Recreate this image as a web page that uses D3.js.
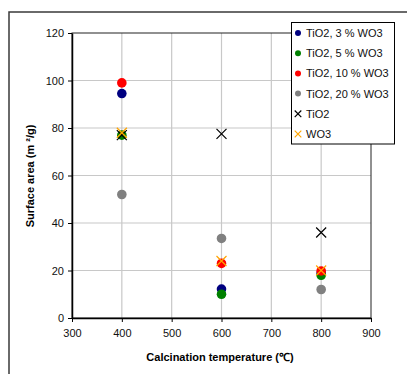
<!DOCTYPE html>
<html>
<head>
<meta charset="utf-8">
<script src="https://cdn.jsdelivr.net/npm/d3@7"></script>
<style>
  body { margin: 0; background: #fff; }
  svg { display: block; font-family: "Liberation Sans", Arial, sans-serif; }
</style>
</head>
<body>
<div id="chart"></div>
<script>
var temps = [400, 600, 800];
var tio2_3wo3 = [94.5, 12.2, 19];
var tio2_5wo3 = [77, 10, 18];
var tio2_10wo3 = [99, 23, 19.8];
var tio2_20wo3 = [52, 33.5, 12];
var tio2 = [77, 77.5, 36];
var wo3 = [78, 24, 20];

var seriesNames = ['TiO2, 3 % WO3', 'TiO2, 5 % WO3', 'TiO2, 10 % WO3', 'TiO2, 20 % WO3', 'TiO2', 'WO3'];
var seriesValues = [tio2_3wo3, tio2_5wo3, tio2_10wo3, tio2_20wo3, tio2, wo3];
var seriesColors = ['#000080', '#008000', '#ff0000', '#808080', '#000000', '#ffa500'];
var seriesShape = ['dot', 'dot', 'dot', 'dot', 'x', 'x'];

var xTicks = [300, 400, 500, 600, 700, 800, 900];
var yTicks = [0, 20, 40, 60, 80, 100, 120];

var svg = d3.select('#chart')
  .append('svg')
  .attr('width', 407)
  .attr('height', 374);

// outer frame of the chart object
svg.append('rect')
  .attr('x', 9)
  .attr('y', 12)
  .attr('width', 430)
  .attr('height', 400)
  .attr('fill', '#fff')
  .attr('stroke', '#3a3a3a')
  .attr('stroke-width', 1.5);

var xScale = d3.scaleLinear().domain([300, 900]).range([72, 371]);
var yScale = d3.scaleLinear().domain([0, 120]).range([318, 33]);

// grid
svg.append('g')
  .selectAll('line')
  .data(xTicks.slice(1, -1))
  .enter()
  .append('line')
  .attr('x1', d => xScale(d)).attr('x2', d => xScale(d))
  .attr('y1', yScale(0)).attr('y2', yScale(120))
  .attr('stroke', '#c8c8c8')
  .attr('stroke-width', 1.2);

svg.append('g')
  .selectAll('line')
  .data(yTicks.slice(1, -1))
  .enter()
  .append('line')
  .attr('x1', xScale(300)).attr('x2', xScale(900))
  .attr('y1', d => yScale(d)).attr('y2', d => yScale(d))
  .attr('stroke', '#c8c8c8')
  .attr('stroke-width', 1.2);

// plot border
svg.append('rect')
  .attr('x', xScale(300))
  .attr('y', yScale(120))
  .attr('width', xScale(900) - xScale(300))
  .attr('height', yScale(0) - yScale(120))
  .attr('fill', 'none')
  .attr('stroke', '#222')
  .attr('stroke-width', 1);

var xAxis = d3.axisBottom(xScale).tickValues(xTicks).tickSize(4).tickSizeOuter(0);
var yAxis = d3.axisLeft(yScale).tickValues(yTicks).tickSize(4).tickSizeOuter(0);

var gx = svg.append('g')
  .attr('transform', 'translate(0,' + yScale(0) + ')')
  .call(xAxis);
var gy = svg.append('g')
  .attr('transform', 'translate(' + xScale(300) + ',0)')
  .call(yAxis);

[gx, gy].forEach(function (g) {
  g.select('.domain').attr('stroke', '#000').attr('stroke-width', 1.5);
  g.selectAll('.tick line').attr('stroke', '#000');
  g.selectAll('.tick text')
    .attr('fill', '#111')
    .style('font-size', '11px')
    .style('font-family', '"Liberation Sans", Arial, sans-serif');
});
gx.selectAll('.tick text').attr('dy', '0.71em').attr('y', 11);
gy.selectAll('.tick text').attr('x', -8);

// axis titles
svg.append('text')
  .attr('x', 220)
  .attr('y', 361)
  .attr('text-anchor', 'middle')
  .style('font-size', '11px')
  .style('font-weight', 'bold')
  .text('Calcination temperature (℃)');

svg.append('text')
  .attr('transform', 'translate(34,176) rotate(-90)')
  .attr('text-anchor', 'middle')
  .style('font-size', '11px')
  .style('font-weight', 'bold')
  .text('Surface area (m ²/g)');

// points
function drawX(g, cx, cy, r, color) {
  g.append('path')
    .attr('d', 'M' + (cx - r) + ',' + (cy - r) + 'L' + (cx + r) + ',' + (cy + r) +
      'M' + (cx - r) + ',' + (cy + r) + 'L' + (cx + r) + ',' + (cy - r))
    .attr('stroke', color)
    .attr('stroke-width', 1.2)
    .attr('fill', 'none');
}

seriesValues.forEach(function (vals, si) {
  var g = svg.append('g');
  vals.forEach(function (v, i) {
    var cx = xScale(temps[i]);
    var cy = yScale(v);
    if (seriesShape[si] === 'dot') {
      g.append('circle')
        .attr('cx', cx)
        .attr('cy', cy)
        .attr('r', 4.8)
        .attr('fill', seriesColors[si]);
    } else {
      drawX(g, cx, cy, 5, seriesColors[si]);
    }
  });
});

// legend
var legend = svg.append('g');
legend.append('rect')
  .attr('x', 291.5)
  .attr('y', 22.5)
  .attr('width', 103)
  .attr('height', 121.5)
  .attr('fill', '#fff')
  .attr('stroke', '#000')
  .attr('stroke-width', 1);

seriesNames.forEach(function (name, i) {
  var y = 33 + i * 20.2;
  if (seriesShape[i] === 'dot') {
    legend.append('circle')
      .attr('cx', 298)
      .attr('cy', y)
      .attr('r', 3)
      .attr('fill', seriesColors[i]);
  } else {
    drawX(legend, 298, y, 3.3, seriesColors[i]);
  }
  legend.append('text')
    .attr('x', 306)
    .attr('y', y + 4)
    .style('font-size', '11px')
    .attr('fill', '#111')
    .text(name);
});
</script>
</body>
</html>
